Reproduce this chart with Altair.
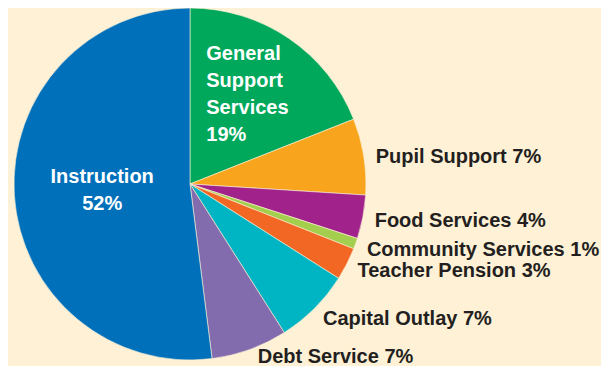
import altair as alt
import pandas as pd

categories = ["General Support Services", "Pupil Support", "Food Services",
              "Community Services", "Teacher Pension", "Capital Outlay",
              "Debt Service", "Instruction"]
shares = [19, 7, 4, 1, 3, 7, 7, 52]
colors = ["#00A85B", "#F8A51D", "#A0228A", "#A4CE4E", "#F26724", "#00B5C3",
          "#826CAE", "#0070BB"]
labels = ["General\nSupport\nServices\n19%", "Pupil Support 7%", "Food Services 4%",
          "Community Services 1%", "Teacher Pension 3%", "Capital Outlay 7%",
          "Debt Service 7%", "Instruction\n52%"]
placement = ["inside_left", "outside", "outside", "outside", "outside", "outside",
             "outside_bottom", "inside_center"]

df = pd.DataFrame({
    "category": categories,
    "share": shares,
    "label": labels,
    "placement": placement,
    "order": list(range(len(categories))),
})

cx, cy = 182, 176
BG = "#FEF1D6"
FONT = "Liberation Sans"

base = alt.Chart(df).encode(
    theta=alt.Theta("share:Q", stack=True),
    order=alt.Order("order:Q"),
    x=alt.value(cx),
    y=alt.value(cy),
)

pie = base.mark_arc(outerRadius=176, stroke=BG, strokeWidth=0.6).encode(
    color=alt.Color("category:N", scale=alt.Scale(domain=categories, range=colors),
                    legend=None)
)


def text_layer(kind, color, **mark_kw):
    return base.transform_calculate(
        t=f"datum.placement == '{kind}' ? datum.label : ''"
    ).mark_text(fontSize=20, fontWeight="bold", font=FONT, color=color,
                baseline="middle", lineBreak="\n", lineHeight=27,
                **mark_kw).encode(text="t:N")


outer = text_layer("outside", "#231F20", radius=188, dy=2, align="left")
outer_bottom = text_layer("outside_bottom", "#231F20", radius=188, dx=4, dy=-4,
                          align="left")
inner_left = text_layer("inside_left", "white", radius=109, dx=-45, dy=-40,
                        align="left")
inner_center = text_layer("inside_center", "white", radius=88, dy=-13,
                          align="center")

chart = alt.layer(pie, outer, outer_bottom, inner_left, inner_center).properties(
    width=593, height=358, padding=0, background=BG,
    autosize=alt.AutoSizeParams(type="none"),
).configure_view(stroke=None)

chart.save("out.html", embed_options={"renderer": "svg", "actions": False})
